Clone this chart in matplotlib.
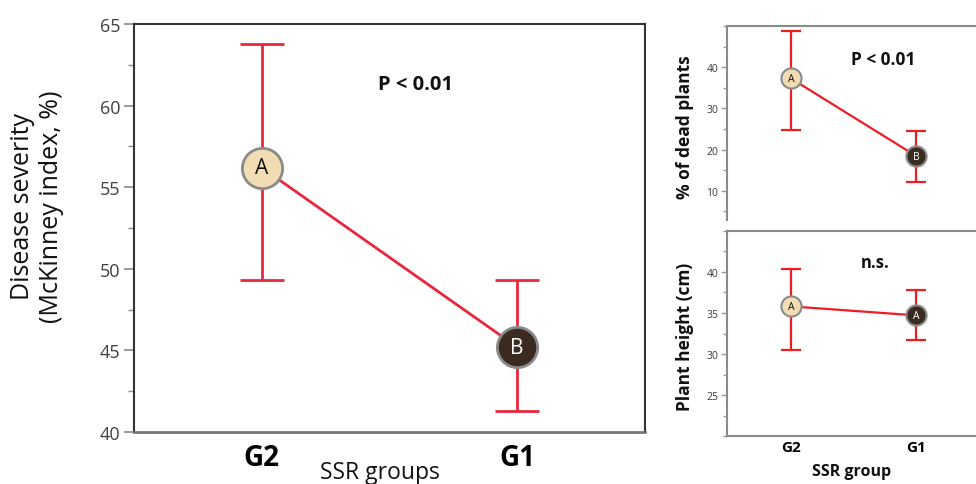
import matplotlib
matplotlib.use("Agg")
import matplotlib.pyplot as plt
from matplotlib.ticker import MultipleLocator, FixedLocator

plt.rcParams['font.family'] = ['Open Sans', 'DejaVu Sans']

# ---------------- data ----------------
groups = ["G2", "G1"]
letters_sev = ["A", "B"]
sev_mean = [56.2, 45.2]
sev_low = [49.3, 41.3]
sev_high = [63.8, 49.3]

letters_dead = ["A", "B"]
dead_mean = [37.3, 18.4]
dead_low = [24.8, 12.1]
dead_high = [48.9, 24.6]

letters_height = ["A", "A"]
height_mean = [35.8, 34.7]
height_low = [30.5, 31.7]
height_high = [40.3, 37.8]

face_colors = ["#F2DCB3", "#3A2A20"]
letter_colors = ["#111111", "#FFFFFF"]

W, H = 976, 485
fig = plt.figure(figsize=(W / 100, H / 100), dpi=100)


def px_axes(l, t, r, b):
    return fig.add_axes([l / W, 1 - b / H, (r - l) / W, (b - t) / H])


def draw_panel(ax, means, lows, highs, letters, red, lw, capsize, ms, letter_fs, edge_w):
    x = list(range(len(means)))
    yerr = [[m - lo for m, lo in zip(means, lows)], [hi - m for m, hi in zip(means, highs)]]
    ax.errorbar(x, means, yerr=yerr, fmt='none', ecolor=red, elinewidth=lw,
                capsize=capsize, capthick=lw, zorder=2)
    ax.plot(x, means, color=red, lw=lw, zorder=3)
    for xi, m, fc, lc, let in zip(x, means, face_colors, letter_colors, letters):
        ax.plot([xi], [m], 'o', ms=ms, mfc=fc, mec="#8a8a8a", mew=edge_w, zorder=4)
        ax.text(xi, m, let, ha='center', va='center', color=lc, fontsize=letter_fs, zorder=5)


# ---------------- main panel ----------------
ax = px_axes(134, 25, 645, 433)
draw_panel(ax, sev_mean, sev_low, sev_high, letters_sev, "#E8273F", 2.0, 16, 29, 15, 2.0)
ax.set_xlim(-0.5, 1.5)
ax.set_ylim(40, 65)
ax.yaxis.set_major_locator(MultipleLocator(5))
ax.yaxis.set_minor_locator(MultipleLocator(2.5))
ax.set_xticks([0, 1])
ax.set_xticklabels(groups, fontsize=20, fontweight='bold')
ax.tick_params(axis='x', length=0, pad=8)
ax.tick_params(axis='y', which='major', direction='out', length=7, width=1.2,
               color='#8a8a8a', labelsize=13, labelcolor='#404040', pad=3)
ax.tick_params(axis='y', which='minor', direction='out', length=4, width=1.0, color='#8a8a8a')
for s in ['left', 'top', 'right']:
    ax.spines[s].set_color('#333333')
    ax.spines[s].set_linewidth(1.5)
ax.spines['bottom'].set_color('#777777')
ax.spines['bottom'].set_linewidth(2.0)
fig.text(415 / W, 1 - 85 / H, "P < 0.01", ha='center', va='center',
         fontsize=14.5, fontweight='bold', color='#111111')
fig.text(37 / W, 1 - 207 / H, "Disease severity\n(McKinney index, %)", rotation=90,
         ha='center', va='center', fontsize=18, color='#111111', linespacing=1.2)
fig.text(380 / W, 0.0, "SSR groups", ha='center', va='bottom', fontsize=16.5,
         color='#111111')

# ---------------- top-right panel ----------------
ax2 = px_axes(726.7, 27, 980.6, 220.7)
draw_panel(ax2, dead_mean, dead_low, dead_high, letters_dead, "#F01C24", 1.6, 7.5, 14.5, 7.5, 1.5)
ax2.set_xlim(-0.51, 1.51)
ax2.set_ylim(3, 50)
ax2.yaxis.set_major_locator(FixedLocator([10, 20, 30, 40]))
ax2.yaxis.set_minor_locator(FixedLocator([5, 15, 25, 35, 45, 50]))
ax2.set_xticks([])
ax2.tick_params(axis='y', which='major', direction='out', length=4, width=1.0,
                color='#9a9a9a', labelsize=7.5, labelcolor='#3a3a3a', pad=2)
ax2.tick_params(axis='y', which='minor', direction='out', length=3, width=1.0, color='#9a9a9a')
for s in ['right', 'bottom']:
    ax2.spines[s].set_visible(False)
for s in ['left', 'top']:
    ax2.spines[s].set_color('#8a8a8a')
    ax2.spines[s].set_linewidth(1.5)
fig.text(883 / W, 1 - 60 / H, "P < 0.01", ha='center', va='center',
         fontsize=12.5, fontweight='bold', color='#111111')
fig.text(685 / W, 1 - 127 / H, "% of dead plants", rotation=90, ha='center', va='center',
         fontsize=12.5, fontweight='bold', color='#111111')

# ---------------- bottom-right panel ----------------
ax3 = px_axes(726.7, 231.7, 980.6, 437.3)
draw_panel(ax3, height_mean, height_low, height_high, letters_height, "#F01C24", 1.6, 7.5, 14.5, 7.5, 1.5)
ax3.set_xlim(-0.51, 1.51)
ax3.set_ylim(20, 45)
ax3.yaxis.set_major_locator(FixedLocator([25, 30, 35, 40]))
ax3.yaxis.set_minor_locator(FixedLocator([20, 22.5, 27.5, 32.5, 37.5, 42.5, 45]))
ax3.set_xticks([0, 1])
ax3.set_xticklabels(groups, fontsize=11, fontweight='bold')
ax3.tick_params(axis='x', length=0, pad=3)
ax3.tick_params(axis='y', which='major', direction='out', length=4, width=1.0,
                color='#9a9a9a', labelsize=7.5, labelcolor='#3a3a3a', pad=2)
ax3.tick_params(axis='y', which='minor', direction='out', length=3, width=1.0, color='#9a9a9a')
ax3.spines['right'].set_visible(False)
for s in ['left', 'top', 'bottom']:
    ax3.spines[s].set_color('#8a8a8a')
    ax3.spines[s].set_linewidth(1.5)
fig.text(875 / W, 1 - 263 / H, "n.s.", ha='center', va='center',
         fontsize=12, fontweight='bold', color='#111111')
fig.text(685 / W, 1 - 337 / H, "Plant height (cm)", rotation=90, ha='center', va='center',
         fontsize=12.5, fontweight='bold', color='#111111')
fig.text(852 / W, 1 - 472 / H, "SSR group", ha='center', va='center',
         fontsize=11.5, fontweight='bold', color='#111111')

fig.savefig("out.png", dpi=100)
